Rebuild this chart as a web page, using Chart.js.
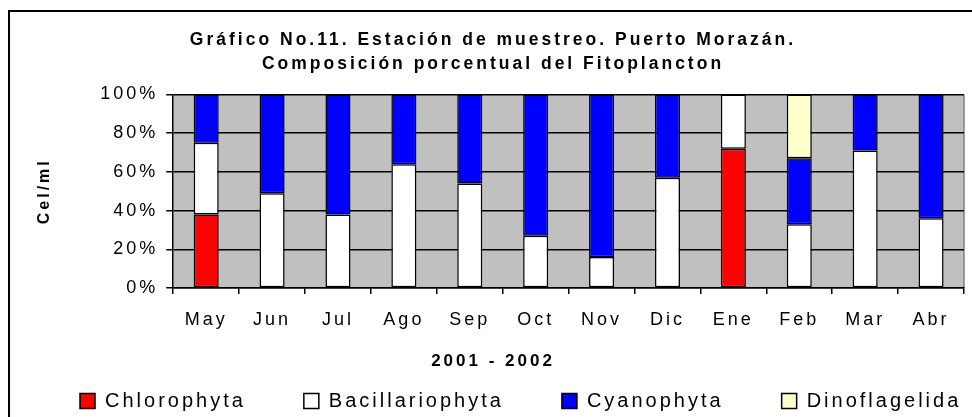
<!DOCTYPE html>
<html>
<head>
<meta charset="utf-8">
<script src="https://cdn.jsdelivr.net/npm/chart.js@4"></script>
<style>
  html, body { margin: 0; padding: 0; background: #ffffff; }
  #wrap { width: 972px; height: 417px; }
</style>
</head>
<body>
<div id="wrap"><canvas id="c" width="972" height="417"></canvas></div>
<script>
const categories = ['May', 'Jun', 'Jul', 'Ago', 'Sep', 'Oct', 'Nov', 'Dic', 'Ene', 'Feb', 'Mar', 'Abr'];
const chlorophyta     = [38, null, null, null, null, null, null, null, 72, null, null, null];
const bacillariophyta = [37, 49, 38, 64, 54, 27, 16, 57, 28, 33, 71, 36];
const cyanophyta      = [25, 51, 62, 36, 46, 73, 84, 43, null, 34, 29, 64];
const dinoflagelida   = [null, null, null, null, null, null, null, null, null, 33, null, null];
const yTicks = [0, 20, 40, 60, 80, 100];
const titleLines = ['Gráfico No.11. Estación de muestreo. Puerto Morazán.', 'Composición porcentual del Fitoplancton'];
const xTitle = '2001 - 2002';
const yTitle = 'Cel/ml';

const SPACING = '3px';
const LEGEND_GAP = 58;
const LEGEND_SHIFT = LEGEND_GAP - 10;

const stylePlugin = {
  id: 'style',
  beforeUpdate(chart) { chart.ctx.letterSpacing = SPACING; },
  beforeLayout(chart) {
    chart.ctx.letterSpacing = SPACING;
    const lg = chart.legend;
    if (lg && !lg._patched) {
      lg._patched = true;
      const origFit = lg.fit;
      lg.fit = function () {
        const mw = this.maxWidth;
        this.maxWidth = mw + 400;
        origFit.apply(this, arguments);
        this.maxWidth = mw;
        this.width = mw;
        this.height = 36;
      };
      const origDraw = lg.draw;
      lg.draw = function () {
        const t = this.top, r = this.right;
        this.top = t - LEGEND_SHIFT;
        this.right = r + 400;
        origDraw.apply(this, arguments);
        this.top = t;
        this.right = r;
      };
    }
  },
  beforeDraw(chart) {
    const ctx = chart.ctx;
    ctx.letterSpacing = SPACING;
    const a = chart.chartArea;
    ctx.save();
    ctx.fillStyle = '#c0c0c0';
    ctx.fillRect(a.left, a.top, a.right - a.left, a.bottom - a.top);
    ctx.strokeStyle = '#808080';
    ctx.lineWidth = 1.5;
    ctx.beginPath();
    ctx.moveTo(a.right, a.top);
    ctx.lineTo(a.right, a.bottom);
    ctx.stroke();
    ctx.strokeStyle = '#000000';
    ctx.lineWidth = 2;
    ctx.strokeRect(9, 11, 2000, 2000);
    ctx.restore();
  }
};

Chart.defaults.font.family = '"Liberation Sans", Arial, sans-serif';
Chart.defaults.color = '#000000';

function ds(label, data, color) {
  return {
    label, data,
    backgroundColor: color,
    borderColor: '#000000',
    borderWidth: 1.5,
    borderSkipped: false,
    barPercentage: 0.76,
    categoryPercentage: 0.5
  };
}

new Chart(document.getElementById('c'), {
  type: 'bar',
  data: {
    labels: categories,
    datasets: [
      ds('Chlorophyta', chlorophyta, '#ff0000'),
      ds('Bacillariophyta', bacillariophyta, '#ffffff'),
      ds('Cyanophyta', cyanophyta, '#0000ff'),
      ds('Dinoflagelida', dinoflagelida, '#ffffcc')
    ]
  },
  options: {
    responsive: false,
    animation: false,
    devicePixelRatio: 1,
    layout: { padding: { left: 22, right: 8, top: 0, bottom: 0 } },
    plugins: {
      tooltip: { enabled: false },
      title: {
        display: true,
        text: titleLines,
        font: { size: 17.5, weight: 'bold', lineHeight: 1.37 },
        padding: { top: 28, bottom: 18.5 }
      },
      subtitle: {
        display: true,
        position: 'bottom',
        text: xTitle,
        font: { size: 17, weight: 'bold' },
        padding: { top: 6, bottom: 9 }
      },
      legend: {
        position: 'bottom',
        align: 'start',
        weight: 1600,
        labels: {
          font: { size: 20 },
          boxWidth: 15,
          boxHeight: 15,
          padding: LEGEND_GAP,
          color: '#000000'
        }
      }
    },
    scales: {
      x: {
        stacked: true,
        grid: { drawOnChartArea: false, color: '#000000', lineWidth: 1.5, tickLength: 6, offset: true },
        border: { color: '#000000', width: 1.5 },
        ticks: { font: { size: 18 }, padding: 15, color: '#000000', maxRotation: 0, autoSkip: false }
      },
      y: {
        stacked: true,
        min: 0,
        max: 100,
        afterBuildTicks(scale) { scale.ticks = yTicks.map(v => ({ value: v })); },
        grid: { color: '#000000', lineWidth: 1.5, tickLength: 7 },
        border: { color: '#000000', width: 1.5 },
        ticks: { font: { size: 18 }, padding: 8, color: '#000000', autoSkip: false, callback: v => v + '%' },
        title: {
          display: true,
          text: yTitle,
          font: { size: 16, weight: 'bold' },
          padding: { top: 13, bottom: 38 }
        }
      }
    }
  },
  plugins: [stylePlugin]
});
</script>
</body>
</html>
